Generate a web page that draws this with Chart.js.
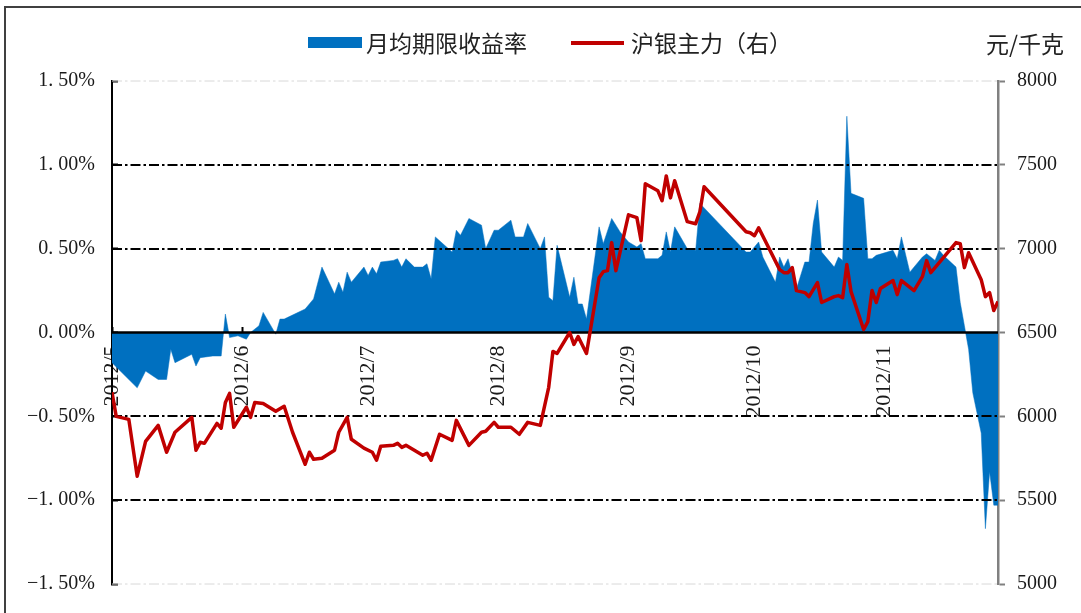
<!DOCTYPE html>
<html><head><meta charset="utf-8">
<script src="https://cdn.jsdelivr.net/npm/chart.js@4.4.0/dist/chart.umd.min.js"></script>
<style>
html,body{margin:0;padding:0;background:#fff;width:1081px;height:613px;overflow:hidden;}
#wrap{position:relative;width:1081px;height:613px;}
canvas{position:absolute;left:0;top:0;}
.frame{position:absolute;left:4px;top:6px;width:1200px;height:800px;border-left:2px solid #404040;border-top:2px solid #404040;}
.leg{position:absolute;font-family:"Noto Sans CJK SC";font-size:23px;color:#222;line-height:1;white-space:nowrap;}
</style></head><body>
<div id="wrap">
<div class="frame"></div>
<canvas id="c" width="1081" height="613"></canvas>
<div style="position:absolute;left:308px;top:37px;width:54px;height:11px;background:#0070C0"></div>
<div class="leg" style="left:366px;top:31px">月均期限收益率</div>
<div style="position:absolute;left:571px;top:41px;width:53px;height:4px;background:#C00000"></div>
<div class="leg" style="left:631px;top:31px">沪银主力（右）</div>
<div class="leg" style="left:986px;top:32px">元/千克</div>
</div>
<script>
// 月均期限收益率 (%), dates in 2012 (MM-DD)
const rateDates = ['05-01','05-07','05-09','05-12','05-14','05-15','05-16','05-20','05-21','05-22','05-25','05-27','05-28','05-29','05-31',
'06-02','06-03','06-05','06-06','06-09','06-10','06-11','06-16','06-18','06-20','06-23','06-24','06-25','06-26','06-27','06-30',
'07-01','07-02','07-03','07-04','07-07','07-08','07-09','07-10','07-12','07-14','07-15','07-16','07-17','07-21','07-22','07-23','07-25','07-28','07-29','07-31',
'08-01','08-04','08-05','08-07','08-08','08-11','08-12','08-13','08-14','08-15','08-18','08-19','08-20','08-21','08-22','08-25','08-26','08-28','08-30',
'09-01','09-03','09-04','09-05','09-08','09-09','09-10','09-11','09-12','09-15','09-17','09-18','09-29','09-30',
'10-02','10-03','10-06','10-07','10-08','10-09','10-11','10-13','10-14','10-15','10-16','10-17','10-20','10-21','10-22','10-23','10-24','10-27','10-28','10-29','10-30',
'11-03','11-04','11-05','11-07','11-10','11-11','11-13','11-14','11-15','11-18','11-19','11-20','11-21','11-22','11-24','11-25','11-26','11-27','11-28'];
const rateValues = [-0.18,-0.33,-0.23,-0.28,-0.28,-0.10,-0.18,-0.13,-0.20,-0.15,-0.14,-0.14,0.11,-0.03,-0.02,
-0.04,0.00,0.04,0.12,-0.01,0.08,0.08,0.14,0.20,0.39,0.23,0.30,0.24,0.36,0.30,0.39,
0.34,0.39,0.35,0.42,0.43,0.44,0.39,0.44,0.39,0.39,0.41,0.32,0.57,0.48,0.61,0.58,0.68,0.64,0.50,0.61,
0.61,0.67,0.57,0.57,0.65,0.50,0.57,0.21,0.19,0.52,0.21,0.33,0.17,0.17,0.08,0.63,0.53,0.68,0.60,
0.54,0.51,0.53,0.44,0.44,0.46,0.60,0.48,0.63,0.50,0.49,0.77,0.48,0.48,
0.54,0.45,0.30,0.45,0.39,0.44,0.26,0.42,0.42,0.65,0.79,0.48,0.39,0.45,0.43,1.29,0.83,0.80,0.44,0.44,0.46,
0.49,0.44,0.57,0.36,0.45,0.47,0.43,0.49,0.46,0.39,0.18,0.04,-0.10,-0.36,-0.60,-1.17,-0.83,-1.03,-1.03];

// 沪银主力 (元/千克)
const priceDates = ['05-01','05-02','05-05','05-07','05-09','05-12','05-14','05-16','05-20','05-21','05-22','05-23','05-26','05-27','05-28','05-29','05-30',
'06-02','06-03','06-04','06-06','06-09','06-11','06-13','06-16','06-17','06-18','06-20','06-23','06-24','06-26','06-27','06-30',
'07-02','07-03','07-04','07-07','07-08','07-09','07-10','07-14','07-15','07-16','07-18','07-21','07-22','07-25','07-28','07-29','07-31',
'08-01','08-04','08-06','08-08','08-11','08-13','08-14','08-15','08-18','08-19','08-20','08-22','08-25','08-26','08-27','08-28','08-29',
'09-01','09-03','09-04','09-05','09-08','09-09','09-10','09-11','09-12','09-15','09-17','09-18','09-19','09-29','09-30',
'10-01','10-02','10-07','10-08','10-09','10-10','10-11','10-13','10-14','10-16','10-17','10-20','10-21','10-22','10-23','10-24','10-27','10-28','10-29','10-30','10-31',
'11-03','11-04','11-05','11-08','11-10','11-11','11-12','11-18','11-19','11-20','11-21','11-24','11-25','11-26','11-27','11-28'];
const priceValues = [6143,6000,5982,5643,5851,5946,5786,5905,5994,5798,5845,5839,5958,5929,6083,6137,5935,
6054,5994,6083,6077,6030,6060,5905,5714,5786,5744,5750,5798,5905,5994,5863,5810,
5786,5738,5821,5827,5839,5815,5827,5768,5780,5738,5893,5857,5976,5827,5905,5911,5964,
5935,5935,5893,5964,5946,6173,6387,6375,6500,6429,6476,6375,6827,6863,6869,7036,6869,
7202,7185,7048,7387,7345,7286,7434,7303,7405,7161,7149,7220,7369,7101,7095,
7077,7125,6875,6857,6857,6887,6750,6738,6714,6798,6679,6714,6720,6708,6905,6744,6518,6565,6750,6679,6762,
6810,6726,6810,6750,6833,6929,6857,7036,7030,6887,6976,6815,6714,6738,6631,6685];

const monthTicks = ['05-01','06-01','07-01','08-01','09-01','10-01','11-01'];
const monthLabels = ['2012/5','2012/6','2012/7','2012/8','2012/9','2012/10','2012/11'];
const axisEnd = '11-28';

function dayOf(s){
  const p = s.split('-').map(Number);
  return (Date.UTC(2012, p[0]-1, p[1]) - Date.UTC(2012, 4, 1)) / 86400000;
}
const rateData = rateDates.map((d,i)=>({x:dayOf(d), y:rateValues[i]}));
const priceData = priceDates.map((d,i)=>({x:dayOf(d), y:priceValues[i]}));

const tickFont = {family:'"Liberation Serif", "DejaVu Serif", serif', size:20};
const xFont = {family:'"Liberation Serif", "DejaVu Serif", serif', size:22};

const gridOver = {
  id:'gridOver',
  afterDatasetDraw(chart, args){
    if (args.index !== 0) return;
    const {ctx, chartArea, scales} = chart;
    const y = scales.y;
    ctx.save();
    y.ticks.forEach(t=>{
      if (t.value === 0) return;
      const py = Math.round(y.getPixelForValue(t.value));
      const edge = Math.abs(t.value) >= 1.5;
      ctx.strokeStyle = edge ? '#d8d8d8' : '#000';
      ctx.lineWidth = edge ? 1 : 2;
      ctx.setLineDash([10,3,2.5,3]);
      ctx.beginPath(); ctx.moveTo(chartArea.left, py); ctx.lineTo(chartArea.right, py); ctx.stroke();
    });
    ctx.setLineDash([]);
    const z = y.getPixelForValue(0);
    ctx.strokeStyle = '#000'; ctx.lineWidth = 2.5;
    ctx.beginPath(); ctx.moveTo(chartArea.left, z); ctx.lineTo(chartArea.right, z); ctx.stroke();
    ctx.restore();
  }
};

function noPad(s){ s.paddingTop = 0; s.paddingBottom = 0; }

new Chart(document.getElementById('c'), {
  type:'line',
  data:{
    datasets:[
      {label:'月均期限收益率', data:rateData, yAxisID:'y', order:2,
       backgroundColor:'#0070C0', borderColor:'#0070C0', borderWidth:0.5,
       fill:'origin', pointRadius:0, tension:0},
      {label:'沪银主力（右）', data:priceData, yAxisID:'y1', order:1,
       borderColor:'#C00000', borderWidth:3.5, fill:false, pointRadius:0, tension:0,
       borderJoinStyle:'round'}
    ]
  },
  options:{
    responsive:false, animation:false,
    layout:{padding:{top:81, bottom:29, left:0, right:0}},
    plugins:{legend:{display:false}, tooltip:{enabled:false}},
    scales:{
      x:{type:'linear', position:{y:0}, min:0, max:dayOf(axisEnd),
        afterBuildTicks:(s)=>{ s.ticks = monthTicks.map(t=>({value:dayOf(t)})); },
        ticks:{autoSkip:false, minRotation:90, maxRotation:90, padding:19, font:xFont, color:'#1a1a1a',
          callback:(v,i)=>monthLabels[i]},
        grid:{drawOnChartArea:false, drawTicks:true, tickLength:-6, tickColor:'#000', tickWidth:2},
        border:{display:false}
      },
      y:{type:'linear', position:'left', min:-1.5, max:1.5,
        ticks:{stepSize:0.5, padding:23, font:tickFont, color:'#1a1a1a',
          callback:(v)=>(v<0?'\u2212':'') + Math.abs(v).toFixed(2).replace('.', '. ') + '%'},
        grid:{drawOnChartArea:false, tickLength:-6, tickColor:'#000', tickWidth:2},
        border:{color:'#000', width:2},
        afterFit:(s)=>{ s.width = 112; noPad(s); }
      },
      y1:{type:'linear', position:'right', min:5000, max:8000,
        ticks:{stepSize:500, padding:12, font:tickFont, color:'#1a1a1a',
          callback:(v)=>String(v)},
        grid:{drawOnChartArea:false, tickLength:7, tickColor:'#808080', tickWidth:2},
        border:{color:'#808080', width:2.5},
        afterFit:(s)=>{ s.width = 83; noPad(s); }
      }
    }
  },
  plugins:[gridOver]
});
</script>
</body></html>
